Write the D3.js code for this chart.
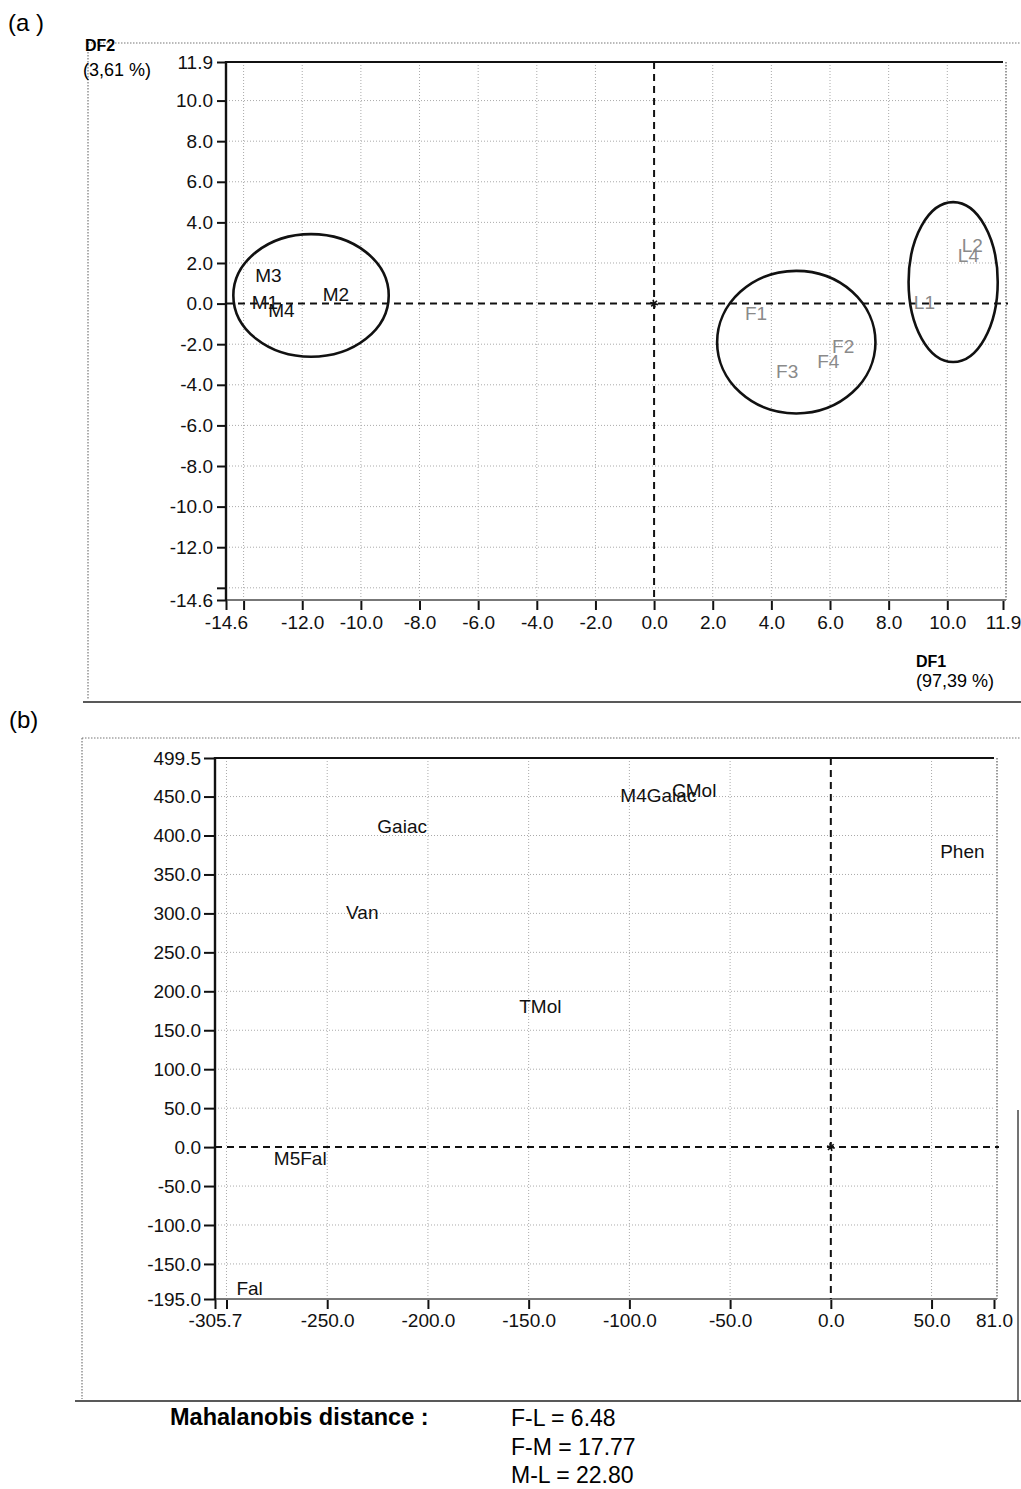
<!DOCTYPE html>
<html><head><meta charset="utf-8">
<script src="https://cdn.jsdelivr.net/npm/d3@7"></script>
<style>
body{margin:0;background:#fff;}
svg{display:block;}
text{font-family:"Liberation Sans",Arial,Helvetica,sans-serif;}
</style></head><body>
<svg id="c" width="1021" height="1489"></svg>
<script>
// ---------- Panel (a) data ----------
const aLabels = ["M3","M1","M4","M2","F1","F2","F4","F3","L1","L2","L4"];
const aGroup  = ["M","M","M","M","F","F","F","F","L","L","L"];
const aDF1    = [-13.15,-13.27,-12.71,-10.85,3.48,6.45,5.94,4.54,9.22,10.85,10.72];
const aDF2    = [1.41,0.08,-0.32,0.47,-0.45,-2.08,-2.82,-3.32,0.08,2.9,2.4];
const ellGroup = ["M","F","L"];
const ellCx = [-11.7,4.85,10.2];
const ellCy = [0.4,-1.9,1.06];
const ellRx = [2.65,2.7,1.52];
const ellRy = [3.02,3.51,3.94];
const aXTicks = [-14.6,-12,-10,-8,-6,-4,-2,0,2,4,6,8,10,11.9];
const aYTicks = [11.9,10,8,6,4,2,0,-2,-4,-6,-8,-10,-12,-14.6];
const aGrid = [-14,-12,-10,-8,-6,-4,-2,2,4,6,8,10];
const aXDomain = [-14.6,11.9];
const aYDomain = [-14.6,11.9];

// ---------- Panel (b) data ----------
const bLabels = ["Gaiac","M4Gaiac","CMol","Phen","Van","TMol","M5Fal","Fal"];
const bX = [-212.8,-85.6,-67.8,65.3,-232.6,-144.2,-263.4,-288.5];
const bY = [412.6,451.9,458.3,380,302,181.2,-14.1,-181.6];
const bXTicks = [-305.7,-250,-200,-150,-100,-50,0,50,81];
const bYTicks = [499.5,450,400,350,300,250,200,150,100,50,0,-50,-100,-150,-195];
const bXGrid = [-300,-250,-200,-150,-100,-50,50];
const bYGrid = [450,400,350,300,250,200,150,100,50,-50,-100,-150];
const bXDomain = [-305.7,81];
const bYDomain = [-195,499.5];

// ---------- Mahalanobis ----------
const mahaPairs = ["F-L","F-M","M-L"];
const mahaVals = [6.48,17.77,22.80];

const svg = d3.select("#c");
const fmt = d => d.toFixed(1);

function outerFrame(x0, y0, yBottom, xLeftBottom) {
  svg.append("line").attr("x1",x0).attr("x2",1021).attr("y1",y0).attr("y2",y0)
    .attr("stroke","#777").attr("stroke-width",1.2).attr("stroke-dasharray","1.5,1.5");
  svg.append("line").attr("x1",x0).attr("x2",x0).attr("y1",y0).attr("y2",yBottom-2)
    .attr("stroke","#777").attr("stroke-width",1.2).attr("stroke-dasharray","1.5,1.5");
  svg.append("line").attr("x1",xLeftBottom).attr("x2",1021).attr("y1",yBottom).attr("y2",yBottom)
    .attr("stroke","#222").attr("stroke-width",1.6);
}

function panel(opts) {
  const {x, y, xTicks, yTicks, xGrid, yGrid, xExtra, yExtra, ySize, yPad, xSize, xPad} = opts;
  const g = svg.append("g");
  const [x0,x1] = x.range(); const [y1,y0] = y.range();
  g.selectAll(".vg").data(xGrid).join("line")
    .attr("x1",d=>x(d)).attr("x2",d=>x(d)).attr("y1",y0).attr("y2",y1)
    .attr("stroke","#aaa").attr("stroke-width",1).attr("stroke-dasharray","1,2");
  g.selectAll(".hg").data(yGrid).join("line")
    .attr("y1",d=>y(d)).attr("y2",d=>y(d)).attr("x1",x0).attr("x2",x1)
    .attr("stroke","#aaa").attr("stroke-width",1).attr("stroke-dasharray","1,2");
  g.append("line").attr("x1",x0).attr("x2",x1).attr("y1",y0).attr("y2",y0)
    .attr("stroke","#111").attr("stroke-width",2);
  g.append("line").attr("x1",x1+3).attr("x2",x1+3).attr("y1",y0).attr("y2",y1)
    .attr("stroke","#666").attr("stroke-width",1.3).attr("stroke-dasharray","1.5,1.5");
  const ax = g.append("g").attr("transform",`translate(0,${y1})`)
    .call(d3.axisBottom(x).tickValues(xTicks).tickFormat(fmt).tickSize(xSize).tickPadding(xPad));
  const axE = g.append("g").attr("transform",`translate(0,${y1})`)
    .call(d3.axisBottom(x).tickValues(xExtra).tickFormat("").tickSize(xSize));
  const ay = g.append("g").attr("transform",`translate(${x0},0)`)
    .call(d3.axisLeft(y).tickValues(yTicks).tickFormat(fmt).tickSize(ySize).tickPadding(yPad));
  const ayE = g.append("g").attr("transform",`translate(${x0},0)`)
    .call(d3.axisLeft(y).tickValues(yExtra).tickFormat("").tickSize(ySize));
  [ax,axE,ay,ayE].forEach(a=>{
    a.select(".domain").remove();
    a.selectAll("line").attr("stroke","#111").attr("stroke-width",2);
    a.selectAll("text").attr("font-size",19).attr("fill","#111")
      .attr("font-family","'Liberation Sans',Arial,sans-serif");
  });
  g.append("line").attr("x1",x0).attr("x2",x1+3).attr("y1",y1).attr("y2",y1)
    .attr("stroke","#777").attr("stroke-width",1.8);
  g.append("line").attr("x1",x0).attr("x2",x0).attr("y1",y0-1).attr("y2",y1+1)
    .attr("stroke","#111").attr("stroke-width",2.4);
  g.append("line").attr("x1",x(0)).attr("x2",x(0)).attr("y1",y0).attr("y2",y1)
    .attr("stroke","#111").attr("stroke-width",2).attr("stroke-dasharray","7,5");
  g.append("line").attr("x1",x0).attr("x2",x1+5).attr("y1",y(0)).attr("y2",y(0))
    .attr("stroke","#111").attr("stroke-width",2).attr("stroke-dasharray","7,5");
  g.append("path").attr("d",d3.symbol(d3.symbolAsterisk,45)())
    .attr("transform",`translate(${x(0)},${y(0)}) rotate(45)`)
    .attr("stroke","#111").attr("stroke-width",1.6).attr("fill","none");
  return g;
}

// ---------- Panel (a) ----------
svg.append("text").attr("x",8).attr("y",31).attr("font-size",24)
  .attr("font-family","'Liberation Serif','Times New Roman',serif").text("(a )");
outerFrame(88, 43, 702, 83);

const xa = d3.scaleLinear().domain(aXDomain).range([226,1003]);
const ya = d3.scaleLinear().domain(aYDomain).range([600,62]);
const ga = panel({x:xa, y:ya, xTicks:aXTicks, yTicks:aYTicks, xGrid:aGrid, yGrid:aGrid,
  xExtra:[-14], yExtra:[-14], ySize:9, yPad:4, xSize:10, xPad:6});

ga.selectAll(".ell").data(ellGroup).join("ellipse")
  .attr("cx",(d,i)=>xa(ellCx[i])).attr("cy",(d,i)=>ya(ellCy[i]))
  .attr("rx",(d,i)=>xa(ellCx[i]+ellRx[i])-xa(ellCx[i]))
  .attr("ry",(d,i)=>ya(ellCy[i]-ellRy[i])-ya(ellCy[i]))
  .attr("fill","none").attr("stroke","#111").attr("stroke-width",2.6);

ga.selectAll(".pl").data(aLabels).join("text")
  .attr("x",(d,i)=>xa(aDF1[i])).attr("y",(d,i)=>ya(aDF2[i]))
  .attr("text-anchor","middle").attr("dy","0.36em").attr("font-size",19)
  .attr("fill",(d,i)=>aGroup[i]==="M" ? "#111" : "#8a8a8a")
  .text(d=>d);

svg.append("text").attr("x",85).attr("y",51).attr("font-size",16).attr("font-weight","bold").text("DF2");
svg.append("text").attr("x",83).attr("y",76).attr("font-size",18).text("(3,61 %)");
svg.append("text").attr("x",916).attr("y",667).attr("font-size",16).attr("font-weight","bold").text("DF1");
svg.append("text").attr("x",916).attr("y",687).attr("font-size",18).text("(97,39 %)");

// ---------- Panel (b) ----------
svg.append("text").attr("x",9).attr("y",728).attr("font-size",24)
  .attr("font-family","'Liberation Serif','Times New Roman',serif").text("(b)");
outerFrame(82, 738, 1401, 75);
svg.append("line").attr("x1",1018).attr("x2",1018).attr("y1",1110).attr("y2",1401)
  .attr("stroke","#444").attr("stroke-width",1.5);

const xb = d3.scaleLinear().domain(bXDomain).range([215,994]);
const yb = d3.scaleLinear().domain(bYDomain).range([1299,758]);
const gb = panel({x:xb, y:yb, xTicks:bXTicks, yTicks:bYTicks, xGrid:bXGrid, yGrid:bYGrid,
  xExtra:[-300], yExtra:[], ySize:11, yPad:3, xSize:10, xPad:5});

gb.selectAll(".pl").data(bLabels).join("text")
  .attr("x",(d,i)=>xb(bX[i])).attr("y",(d,i)=>yb(bY[i]))
  .attr("text-anchor","middle").attr("dy","0.36em").attr("font-size",19)
  .attr("fill","#111").text(d=>d);

// ---------- Mahalanobis text ----------
svg.append("text").attr("x",170).attr("y",1425).attr("font-size",23.5).attr("font-weight","bold")
  .text("Mahalanobis distance :");
svg.selectAll(".mh").data(mahaPairs).join("text")
  .attr("x",511).attr("y",(d,i)=>1426+i*28.5).attr("font-size",23)
  .text((d,i)=>`${d} = ${mahaVals[i].toFixed(2)}`);
</script>
</body></html>
